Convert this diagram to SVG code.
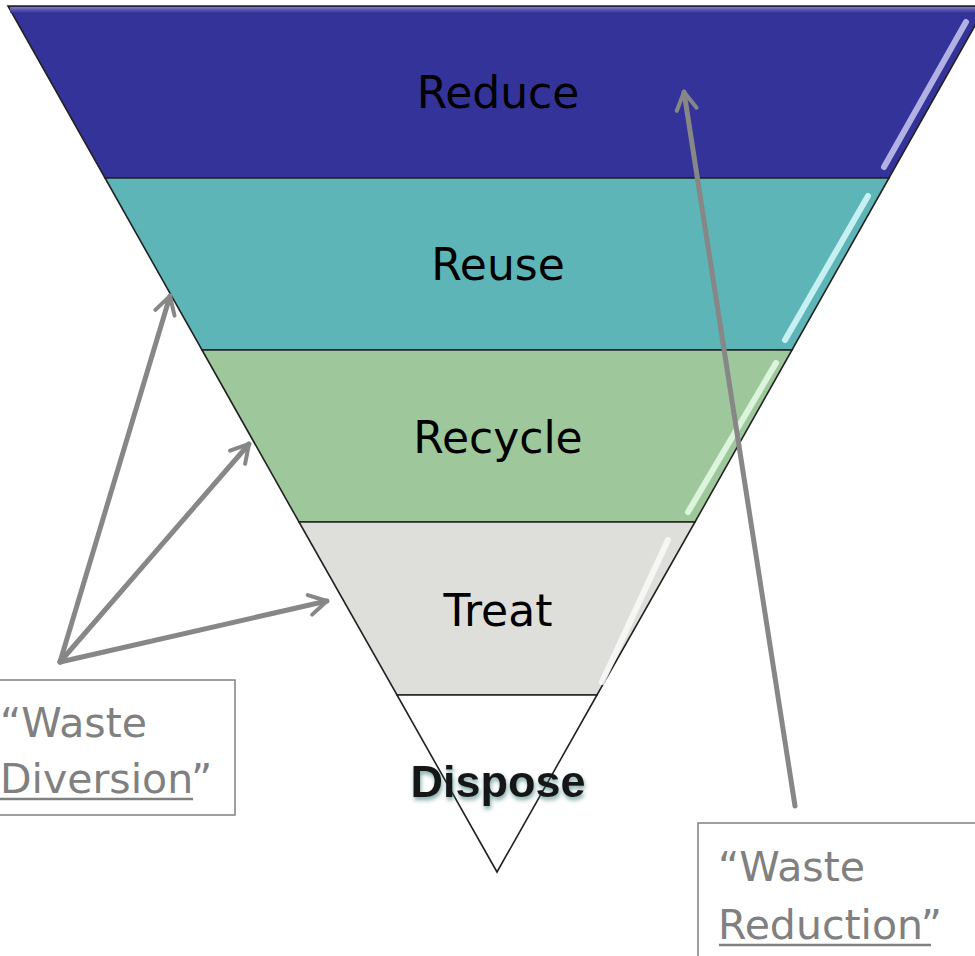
<svg xmlns="http://www.w3.org/2000/svg" width="975" height="956" viewBox="0 0 975 956">
<defs>
<style>
.band{stroke:#222;stroke-width:1.6;stroke-linejoin:miter}
.lbl{font-family:"DejaVu Sans",Verdana,sans-serif;font-size:44px;fill:#000;text-anchor:middle}
.note{font-family:"DejaVu Sans",Verdana,sans-serif;font-size:41px;fill:#808080}
.conn{stroke:#878787;stroke-width:5;fill:none;stroke-linecap:round}
.hl{stroke-width:6;stroke-linecap:round;fill:none;opacity:0.85}
</style>
<marker id="arr" viewBox="0 0 20 20" refX="17" refY="10" markerWidth="5" markerHeight="5" markerUnits="strokeWidth" orient="auto">
<path d="M3,2 L17,10 L3,18" fill="none" stroke="#878787" stroke-width="3.2" stroke-linecap="round" stroke-linejoin="round"/>
</marker>
<filter id="sh" x="-20%" y="-20%" width="140%" height="160%">
<feGaussianBlur in="SourceAlpha" stdDeviation="2"/>
<feOffset dx="1" dy="3" result="b"/>
<feFlood flood-color="#2a6a6a" flood-opacity="0.6"/>
<feComposite in2="b" operator="in" result="s"/>
<feMerge><feMergeNode in="s"/><feMergeNode in="SourceGraphic"/></feMerge>
</filter>
<linearGradient id="topg" x1="0" y1="0" x2="0" y2="1">
<stop offset="0" stop-color="#8c8cc8"/>
<stop offset="1" stop-color="#333399"/>
</linearGradient>
</defs>
<g id="reduce">
<polygon class="band" points="8,6 986,6 889,178 105,178" fill="#333399"/>
<rect x="10" y="7" width="970" height="6" fill="url(#topg)" opacity="0.8"/>
<line class="hl" x1="884" y1="167" x2="966" y2="22" stroke="#c8c8f0"/>
<text class="lbl" x="498" y="108">Reduce</text>
</g>
<g id="reuse">
<polygon class="band" points="105,178 889,178 792,350 202,350" fill="#5db5b8"/>
<line class="hl" x1="785" y1="340" x2="868" y2="196" stroke="#d8fafa"/>
<text class="lbl" x="498" y="280">Reuse</text>
</g>
<g id="recycle">
<polygon class="band" points="202,350 792,350 695,522 299,522" fill="#9ec89b"/>
<line class="hl" x1="688" y1="512" x2="776" y2="363" stroke="#e6fbe6"/>
<text class="lbl" x="498" y="453">Recycle</text>
</g>
<g id="treat">
<polygon class="band" points="299,522 695,522 597,695 397,695" fill="#dededa"/>
<line class="hl" x1="602" y1="682" x2="668" y2="540" stroke="#fafaf8"/>
<text class="lbl" x="498" y="626">Treat</text>
</g>
<g id="dispose">
<polygon class="band" points="397,695 597,695 497,872" fill="#ffffff"/>
<text x="498" y="797" text-anchor="middle" font-family="'Liberation Sans',Arial,sans-serif" font-weight="bold" font-size="45" fill="#151515" filter="url(#sh)">Dispose</text>
</g>
<g id="waste-diversion">
<rect x="-10" y="680" width="245" height="135" fill="none" stroke="#808080" stroke-width="1.5"/>
<text class="note" x="0" y="737">“Waste</text>
<text class="note" x="0" y="793">Diversion<tspan>”</tspan></text>
<line x1="0" y1="799" x2="193" y2="799" stroke="#808080" stroke-width="2.5"/>
</g>
<g id="waste-reduction">
<rect x="698" y="823" width="290" height="145" fill="none" stroke="#808080" stroke-width="1.5"/>
<text class="note" x="718" y="881">“Waste</text>
<text class="note" x="718" y="939">Reduction<tspan>”</tspan></text>
<line x1="719" y1="945" x2="931" y2="945" stroke="#808080" stroke-width="2.5"/>
</g>
<g id="connectors">
<line class="conn" x1="60" y1="662" x2="170" y2="296" marker-end="url(#arr)"/>
<line class="conn" x1="60" y1="662" x2="249" y2="444" marker-end="url(#arr)"/>
<line class="conn" x1="60" y1="662" x2="327" y2="601" marker-end="url(#arr)"/>
<line class="conn" x1="795" y1="806" x2="684" y2="92" marker-end="url(#arr)"/>
</g>
</svg>
